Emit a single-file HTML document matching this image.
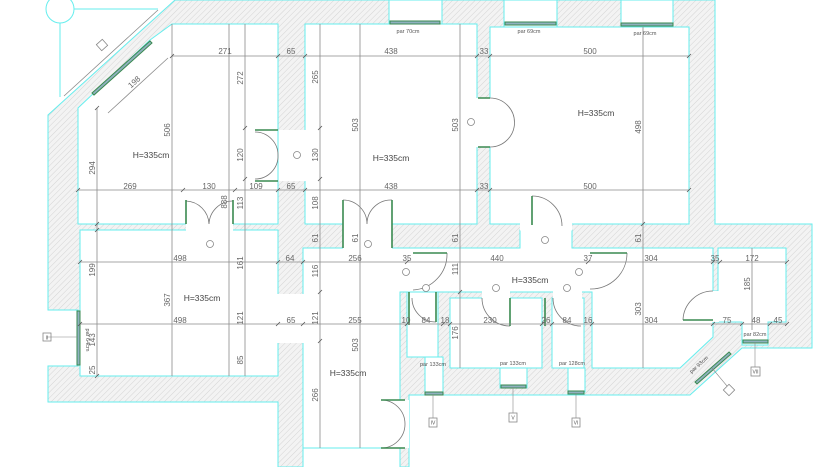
<!DOCTYPE html>
<html><head><meta charset="utf-8"><style>
html,body{margin:0;padding:0;background:#fff;}
svg{display:block;}
text{font-family:"Liberation Sans",sans-serif;}
.d{font-size:8px;fill:#666;}
.h{font-size:8.5px;fill:#444;}
.s{font-size:5.5px;fill:#555;}
</style></head><body>
<svg width="835" height="467" viewBox="0 0 835 467" xmlns="http://www.w3.org/2000/svg">
<defs>
<pattern id="hat" width="4" height="4" patternUnits="userSpaceOnUse" patternTransform="rotate(45)">
<rect width="4" height="4" fill="#f3f3f3"/><line x1="0" y1="0" x2="0" y2="4" stroke="#d4d4d4" stroke-width="1"/>
</pattern>
</defs>
<rect width="835" height="467" fill="#fff"/>
<!-- walls -->
<path d="M48,115 L175,0 L715,0 L715,224 L812,224 L812,348 L742,348 L690,395 L409,395 L409,467 L400,467 L400,448 L303,448 L303,467 L278,467 L278,402 L48,402 L48,366 L78,366 L78,310 L48,310 Z" fill="url(#hat)" stroke="#66eeee" stroke-width="1"/>
<g fill="#fff" stroke="#66eeee" stroke-width="1">
<polygon points="78,108 150,40 172,24 278,24 278,224 78,224"/>
<rect x="305" y="24" width="172" height="200"/>
<rect x="490" y="27" width="199" height="197"/>
<rect x="389" y="0" width="53" height="24"/>
<rect x="504" y="0" width="53" height="27"/>
<rect x="621" y="0" width="52" height="27"/>
<rect x="80" y="230" width="198" height="146"/>
<polygon points="303,248 520,248 520,230 572,230 572,248 713,248 713,291 718,291 718,248 786,248 786,322 768,322 768,345 742,345 742,322 713,322 713,337 680,368 592,368 592,292 400,292 400,448 303,448"/>
<rect x="407" y="292" width="31" height="65"/>
<rect x="425" y="357" width="18" height="36"/>
<rect x="450" y="298" width="92" height="70"/>
<rect x="500" y="368" width="27" height="20"/>
<rect x="552" y="298" width="32" height="70"/>
<rect x="568" y="368" width="17" height="24"/>
</g>
<g fill="#fff">
<rect x="278.5" y="130" width="27" height="51"/>
<rect x="476.5" y="98" width="14" height="49"/>
<rect x="186" y="223.5" width="47" height="7"/>
<rect x="343" y="223.5" width="49" height="25"/>
<rect x="520" y="223.5" width="52" height="7"/>
<rect x="277.5" y="294" width="26" height="49"/>
<rect x="482" y="291" width="28" height="8"/>
<rect x="553" y="291" width="29" height="8"/>
<rect x="712" y="291" width="7" height="31"/>
<rect x="399" y="400" width="10" height="48"/>
</g>
<!-- site lines -->
<circle cx="60" cy="9" r="14" fill="#fff" stroke="#66eeee"/>
<line x1="60" y1="23" x2="60" y2="97" stroke="#66eeee"/>
<line x1="74" y1="9" x2="158" y2="9" stroke="#66eeee"/>
<!-- windows -->
<g stroke="#3a8a50" stroke-width="1" fill="#8fb0bf">
<rect x="390" y="21" width="50" height="3"/><rect x="505" y="22" width="51" height="3"/><rect x="621" y="23" width="52" height="3"/>
<rect x="77" y="311" width="3" height="54"/>
<rect x="425" y="392" width="18" height="3"/><rect x="501" y="385" width="25" height="3"/><rect x="568" y="391" width="16" height="3"/>
<rect x="743" y="340" width="25" height="3"/>
<polygon points="92,93 150,41 152,43 94,95"/>
<polygon points="695,382 729,352 731,354 697,384"/>
</g>
<!-- doors -->
<g fill="none" stroke="#777" stroke-width="0.8">
<path d="M255,132 A23,23 0 0 1 278,155 M255,179 A23,23 0 0 0 278,155"/>
<path d="M490,98 A24,24 0 0 1 490,147" />
<path d="M186,201 A24,24 0 0 1 209,224 M233,201 A24,24 0 0 0 209,224"/>
<path d="M343,200 A24,24 0 0 1 367,224 M392,200 A24,24 0 0 0 367,224"/>
<path d="M532,196 A30,30 0 0 1 562,226"/>
<path d="M447,253 A36,36 0 0 1 413,290"/>
<path d="M627,253 A36,36 0 0 1 590,289"/>
<path d="M412,298 A24,24 0 0 0 436,322"/>
<path d="M482,298 A28,28 0 0 0 510,326"/>
<path d="M553,298 A28,28 0 0 0 581,326"/>
<path d="M713,291 A30,30 0 0 0 683,320"/>
<path d="M381,400 A24,24 0 0 1 405,424 M381,448 A24,24 0 0 0 405,424"/>
</g>
<g stroke="#3a8a50" stroke-width="1.6" fill="none">
<path d="M255,130 L278,130 M255,181 L278,181 M186,200 L186,224 M233,200 L233,224 M343,200 L343,248 M392,200 L392,248 M478,98 L490,98 M478,147 L490,147 M532,196 L532,225 M413,253 L447,253 M590,253 L627,253 M683,320 L713,320 M409,292 L409,325 M436,292 L436,322 M510,298 L510,326 M545,298 L545,326 M381,400 L405,400 M381,448 L405,448"/>
</g>
<!-- dimension lines -->
<g stroke="#8a8a8a" stroke-width="0.8">
<line x1="172" y1="56" x2="689" y2="56"/>
<line x1="78" y1="190" x2="689" y2="190"/>
<line x1="80" y1="262" x2="787" y2="262"/>
<line x1="80" y1="324" x2="787" y2="324"/>
<line x1="97" y1="108" x2="97" y2="376"/>
<line x1="172" y1="24" x2="172" y2="376"/>
<line x1="229" y1="24" x2="229" y2="376"/>
<line x1="245" y1="24" x2="245" y2="376"/>
<line x1="320" y1="24" x2="320" y2="448"/>
<line x1="360" y1="24" x2="360" y2="448"/>
<line x1="460" y1="24" x2="460" y2="368"/>
<line x1="643" y1="27" x2="643" y2="368"/>
<line x1="752" y1="248" x2="752" y2="330"/>
<line x1="64" y1="96" x2="158" y2="10"/>
<line x1="108" y1="113" x2="168" y2="58"/>
</g>
<g stroke="#555" stroke-width="0.8">
<path d="M170,58l4,-4M276,58l4,-4M303,58l4,-4M475,58l4,-4M488,58l4,-4M687,58l4,-4
M76,192l4,-4M181,192l4,-4M233,192l4,-4M276,192l4,-4M303,192l4,-4M475,192l4,-4M488,192l4,-4M687,192l4,-4
M78,264l4,-4M276,264l4,-4M301,264l4,-4M405,264l4,-4M586,264l4,-4M711,264l4,-4M718,264l4,-4M785,264l4,-4
M78,326l4,-4M276,326l4,-4M301,326l4,-4M405,326l4,-4M441,326l4,-4M448,326l4,-4M540,326l4,-4M550,326l4,-4M590,326l4,-4M711,326l4,-4M740,326l4,-4M768,326l4,-4M785,326l4,-4
M95,110l4,-4M95,226l4,-4M95,232l4,-4M95,378l4,-4M243,130l4,-4M243,181l4,-4M318,130l4,-4M318,181l4,-4M318,294l4,-4M318,343l4,-4M458,294l4,-4M641,226l4,-4"/>
</g>
<!-- horizontal labels -->
<g class="d" text-anchor="middle">
<text x="225" y="54">271</text><text x="291" y="54">65</text><text x="391" y="54">438</text><text x="484" y="54">33</text><text x="590" y="54">500</text>
<text x="130" y="189">269</text><text x="209" y="189">130</text><text x="256" y="189">109</text><text x="291" y="189">65</text><text x="391" y="189">438</text><text x="484" y="189">33</text><text x="590" y="189">500</text>
<text x="180" y="261">498</text><text x="290" y="261">64</text><text x="355" y="261">256</text><text x="407" y="261">35</text><text x="497" y="261">440</text><text x="588" y="261">37</text><text x="651" y="261">304</text><text x="715" y="261">35</text><text x="752" y="261">172</text>
<text x="180" y="323">498</text><text x="291" y="323">65</text><text x="355" y="323">255</text><text x="406" y="323">10</text><text x="426" y="323">84</text><text x="445" y="323">18</text><text x="490" y="323">230</text><text x="546" y="323">26</text><text x="567" y="323">84</text><text x="588" y="323">16</text><text x="651" y="323">304</text><text x="727" y="323">75</text><text x="756" y="323">48</text><text x="778" y="323">45</text>
</g>
<!-- vertical labels -->
<g class="d" text-anchor="middle">
<text transform="translate(95,168) rotate(-90)">294</text>
<text transform="translate(95,270) rotate(-90)">199</text>
<text transform="translate(95,340) rotate(-90)">143</text>
<text transform="translate(95,370) rotate(-90)">25</text>
<text transform="translate(170,130) rotate(-90)">506</text>
<text transform="translate(170,300) rotate(-90)">367</text>
<text transform="translate(227,202) rotate(-90)">888</text>
<text transform="translate(243,78) rotate(-90)">272</text>
<text transform="translate(243,155) rotate(-90)">120</text>
<text transform="translate(243,203) rotate(-90)">113</text>
<text transform="translate(243,263) rotate(-90)">161</text>
<text transform="translate(243,318) rotate(-90)">121</text>
<text transform="translate(243,360) rotate(-90)">85</text>
<text transform="translate(318,77) rotate(-90)">265</text>
<text transform="translate(318,155) rotate(-90)">130</text>
<text transform="translate(318,203) rotate(-90)">108</text>
<text transform="translate(318,238) rotate(-90)">61</text>
<text transform="translate(318,271) rotate(-90)">116</text>
<text transform="translate(318,318) rotate(-90)">121</text>
<text transform="translate(318,395) rotate(-90)">266</text>
<text transform="translate(358,125) rotate(-90)">503</text>
<text transform="translate(358,238) rotate(-90)">61</text>
<text transform="translate(358,345) rotate(-90)">503</text>
<text transform="translate(458,125) rotate(-90)">503</text>
<text transform="translate(458,238) rotate(-90)">61</text>
<text transform="translate(458,269) rotate(-90)">111</text>
<text transform="translate(458,333) rotate(-90)">176</text>
<text transform="translate(641,127) rotate(-90)">498</text>
<text transform="translate(641,238) rotate(-90)">61</text>
<text transform="translate(641,309) rotate(-90)">303</text>
<text transform="translate(750,284) rotate(-90)">185</text>
<text transform="translate(136,84) rotate(-42)">198</text>
</g>
<g class="h" text-anchor="middle">
<text x="151" y="158">H=335cm</text><text x="391" y="161">H=335cm</text><text x="596" y="116">H=335cm</text>
<text x="202" y="301">H=335cm</text><text x="348" y="376">H=335cm</text><text x="530" y="283">H=335cm</text>
</g>
<g class="s" text-anchor="middle">
<text x="408" y="33">par 70cm</text><text x="529" y="33">par 69cm</text><text x="645" y="35">par 69cm</text>
<text x="433" y="366">par 133cm</text><text x="513" y="365">par 133cm</text><text x="572" y="365">par 128cm</text>
<text x="755" y="336">par 82cm</text>
<text transform="translate(700,366) rotate(-42)">par 93cm</text>
<text transform="translate(86,340) rotate(90)">par 64cm</text>
</g>
<!-- tags -->
<g fill="#fff" stroke="#888" stroke-width="0.8">
<rect x="43" y="333" width="8" height="8"/><rect x="429" y="418" width="8" height="9"/><rect x="509" y="413" width="8" height="9"/><rect x="572" y="418" width="8" height="9"/><rect x="751" y="367" width="9" height="9"/>
<rect x="725" y="386" width="8" height="8" transform="rotate(45 729 390)"/>
<rect x="98" y="41" width="8" height="8" transform="rotate(-42 102 45)"/>
<circle cx="297" cy="155" r="3.5"/><circle cx="210" cy="244" r="3.5"/><circle cx="368" cy="244" r="3.5"/><circle cx="545" cy="240" r="3.5"/><circle cx="471" cy="122" r="3.5"/>
<circle cx="406" cy="272" r="3.5"/><circle cx="579" cy="272" r="3.5"/><circle cx="426" cy="288" r="3.5"/><circle cx="496" cy="288" r="3.5"/><circle cx="567" cy="288" r="3.5"/>
</g>
<g stroke="#888" stroke-width="0.6">
<line x1="47" y1="337" x2="77" y2="337"/><line x1="433" y1="394" x2="433" y2="418"/><line x1="513" y1="387" x2="513" y2="413"/><line x1="576" y1="393" x2="576" y2="418"/><line x1="755" y1="342" x2="755" y2="367"/><line x1="712" y1="368" x2="727" y2="386"/>
</g>
<g class="s" text-anchor="middle" style="font-size:5px">
<text x="47" y="339.5">II</text><text x="433" y="424.5">IV</text><text x="513" y="419.5">V</text><text x="576" y="424.5">VI</text><text x="755.5" y="373.5">VII</text>
</g>
</svg>
</body></html>
